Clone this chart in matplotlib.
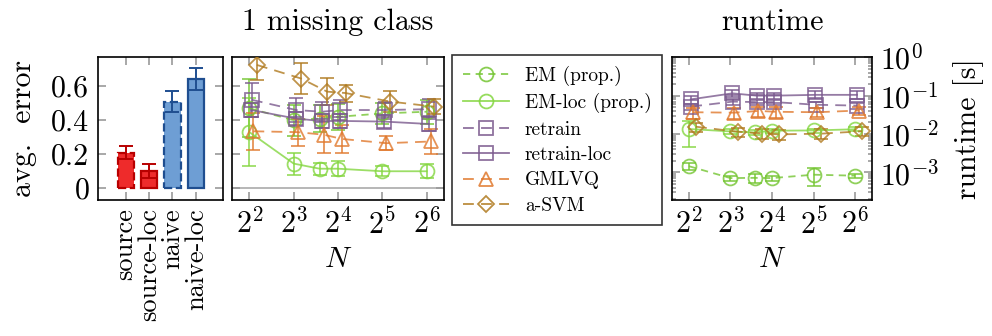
import numpy as np
import matplotlib
matplotlib.use("Agg")
from matplotlib import pyplot as plt
from matplotlib.lines import Line2D

plt.rcParams['font.family'] = ['cmr10', 'DejaVu Serif']
plt.rcParams['mathtext.fontset'] = 'cm'
plt.rcParams['axes.formatter.use_mathtext'] = True
plt.rcParams['axes.unicode_minus'] = False

# bar panel: average error of the baselines
bar_names = ['source', 'source-loc', 'naive', 'naive-loc']
bar_vals = [0.21, 0.10, 0.51, 0.64]
bar_errs = [0.04, 0.04, 0.06, 0.065]

# 1 missing class: error over number of prototypes N
N = [4, 8, 12, 16, 32, 64]
em = [0.47, 0.40, 0.41, 0.42, 0.44, 0.45]
em_err = [0.17, 0.09, 0.08, 0.075, 0.06, 0.07]
em_loc = [0.33, 0.145, 0.115, 0.115, 0.10, 0.10]
em_loc_err = [0.20, 0.065, 0.035, 0.045, 0.03, 0.04]
retrain = [0.52, 0.46, 0.45, 0.46, 0.46, 0.465]
retrain_err = [0.10, 0.07, 0.06, 0.06, 0.05, 0.06]
retrain_loc = [0.46, 0.41, 0.395, 0.396, 0.392, 0.378]
retrain_loc_err = [0.04, 0.04, 0.04, 0.04, 0.04, 0.04]
gmlvq = [0.335, 0.33, 0.315, 0.29, 0.265, 0.275]
gmlvq_err = [0.11, 0.08, 0.11, 0.08, 0.04, 0.075]
asvm = [0.725, 0.645, 0.568, 0.56, 0.51, 0.48]
asvm_err = [0.09, 0.09, 0.08, 0.05, 0.06, 0.045]

# runtime in seconds
rt_em = [0.00145, 0.00071, 0.00072, 0.00071, 0.00087, 0.00082]
rt_em_err = [0.0003, 0.0001, 0.0002, 0.0001, 0.00042, 0.0001]
rt_em_loc = [0.0135, 0.0117, 0.011, 0.0122, 0.0124, 0.0133]
rt_em_loc_err = [0.009, 0.0015, 0.0015, 0.0015, 0.0015, 0.0015]
rt_retrain = [0.052, 0.07, 0.068, 0.068, 0.058, 0.055]
rt_retrain_err = [0.01, 0.012, 0.01, 0.01, 0.01, 0.01]
rt_retrain_loc = [0.08, 0.115, 0.1, 0.1, 0.105, 0.105]
rt_retrain_loc_err = [0.02, 0.025, 0.02, 0.02, 0.025, 0.025]
rt_gmlvq = [0.037, 0.036, 0.04, 0.038, 0.037, 0.041]
rt_gmlvq_err = [0.012, 0.012, 0.012, 0.012, 0.01, 0.01]
rt_asvm = [0.0155, 0.0115, 0.0103, 0.0098, 0.0102, 0.0118]
rt_asvm_err = [0.004, 0.003, 0.003, 0.003, 0.003, 0.003]

green = '#74C532'
green2 = '#84D640'
purple = '#7B5A8E'
orange = '#E0782C'
brown = '#B07A1E'
tickgray = '#999999'

W, H = 992, 336
fig = plt.figure(figsize=(W / 100, H / 100), dpi=100)


def box(x0, y0, x1, y1):
    return [x0 / W, 1 - y1 / H, (x1 - x0) / W, (y1 - y0) / H]


ax0 = fig.add_axes(box(97.7, 57.3, 222.7, 200))
ax1 = fig.add_axes(box(231.7, 57.3, 444.3, 200))
ax2 = fig.add_axes(box(672.3, 57.3, 871.7, 200))

fs = 21.5

# --- bars ---
pos = np.arange(len(bar_names))
fills = ['#EE2B2B', '#EE2B2B', '#6E9ED4', '#6E9ED4']
edges = ['#B80000', '#B80000', '#1F4E90', '#1F4E90']
styles = ['--', '-', '--', '-']
for i in range(len(bar_names)):
    ax0.bar(pos[i], bar_vals[i], width=0.7, color=fills[i], edgecolor=edges[i],
            linewidth=1.6, linestyle=styles[i], zorder=2)
    ax0.errorbar(pos[i], bar_vals[i], yerr=bar_errs[i], color=edges[i],
                 capsize=5, elinewidth=1.4, capthick=1.4, zorder=3)
ax0.set_xlim(-1.2, 4.15)
ax0.set_ylim(-0.069, 0.77)
ax0.set_xticks(pos)
ax0.set_xticklabels(bar_names, rotation=90, fontsize=19)
ax0.set_yticks([0, 0.2, 0.4, 0.6])
ax0.set_yticklabels(['0', '0.2', '0.4', '0.6'], fontsize=fs)
ax0.set_ylabel('avg.  error', fontsize=fs, labelpad=10)

# --- error over N and runtime ---
series = [
    (em, em_err, rt_em, rt_em_err, green, (0, (4, 3)), 'o', 0.0, 'EM (prop.)'),
    (em_loc, em_loc_err, rt_em_loc, rt_em_loc_err, green2, '-', 'o', 0.0, 'EM-loc (prop.)'),
    (retrain, retrain_err, rt_retrain, rt_retrain_err, purple, (0, (6, 4)), 's', 0.055, 'retrain'),
    (retrain_loc, retrain_loc_err, rt_retrain_loc, rt_retrain_loc_err, purple, '-', 's', 0.045, 'retrain-loc'),
    (gmlvq, gmlvq_err, rt_gmlvq, rt_gmlvq_err, orange, (0, (6, 4)), '^', 0.09, 'GMLVQ'),
    (asvm, asvm_err, rt_asvm, rt_asvm_err, brown, (0, (6, 4)), 'D', 0.17, 'a-SVM'),
]

handles = []
for vals, errs, rt, rt_err, col, ls, mk, shift, name in series:
    xs = np.array(N) * 2 ** shift
    ms = 8 if mk == 'D' else 10
    for ax, y, e in [(ax1, vals, errs), (ax2, rt, rt_err)]:
        ax.errorbar(xs, y, yerr=e, color=col, linestyle=ls, linewidth=1.3,
                    marker=mk, markersize=ms, markerfacecolor='none',
                    markeredgewidth=1.3, capsize=5, elinewidth=1.3,
                    capthick=1.3, alpha=0.8, zorder=3)
    handles.append(Line2D([], [], color=col, linestyle=ls, linewidth=1.3,
                          marker=mk, markersize=ms, markerfacecolor='none',
                          markeredgewidth=1.3, alpha=0.85))

ax1.axhline(0, color='#aaaaaa', linewidth=1.2, zorder=1)
ax1.set_ylim(ax0.get_ylim())
ax1.set_yticks([0, 0.2, 0.4, 0.6])
ax1.set_yticklabels([])
ax1.set_title('1 missing class', fontsize=fs, pad=20)

ax2.set_yscale('log')
ax2.set_ylim(10 ** -3.72, 1.0)
ax2.set_yticks([1e-3, 1e-2, 1e-1, 1e0])
ax2.set_yticklabels(['$10^{-3}$', '$10^{-2}$', '$10^{-1}$', '$10^{0}$'], fontsize=fs)
ax2.yaxis.tick_right()
ax2.yaxis.set_label_position('right')
ax2.set_ylabel('runtime [s]', fontsize=fs, labelpad=10)
ax2.set_title('runtime', fontsize=fs, pad=20)

for ax in (ax1, ax2):
    ax.set_xscale('log', base=2)
    ax.set_xlim(2 ** 1.6, 2 ** 6.4)
    ax.set_xticks([4, 8, 16, 32, 64])
    ax.set_xticklabels(['$2^{2}$', '$2^{3}$', '$2^{4}$', '$2^{5}$', '$2^{6}$'], fontsize=fs)
    ax.xaxis.set_minor_locator(matplotlib.ticker.NullLocator())
    ax.set_xlabel('$N$', fontsize=fs, labelpad=4)

for ax in (ax0, ax1, ax2):
    ax.tick_params(which='both', direction='in', top=True, bottom=True,
                   left=True, right=True, color=tickgray, width=1.2)
    ax.tick_params(which='major', length=6, pad=6)
    ax.tick_params(which='minor', length=3)
    for s in ax.spines.values():
        s.set_linewidth(1.2)
ax2.tick_params(axis='y', labelleft=False, labelright=True)

fig.legend(handles, [s[-1] for s in series], loc='upper left',
           bbox_to_anchor=(452 / W, 1 - 55 / H), borderaxespad=0,
           prop={'family': ['cmr10'], 'size': 14}, frameon=True,
           fancybox=False, edgecolor='black', handlelength=2.4,
           labelspacing=0.38, borderpad=0.55, handletextpad=0.8)
fig.legends[0].get_frame().set_linewidth(1.2)

fig.savefig('out.png', dpi=100)
